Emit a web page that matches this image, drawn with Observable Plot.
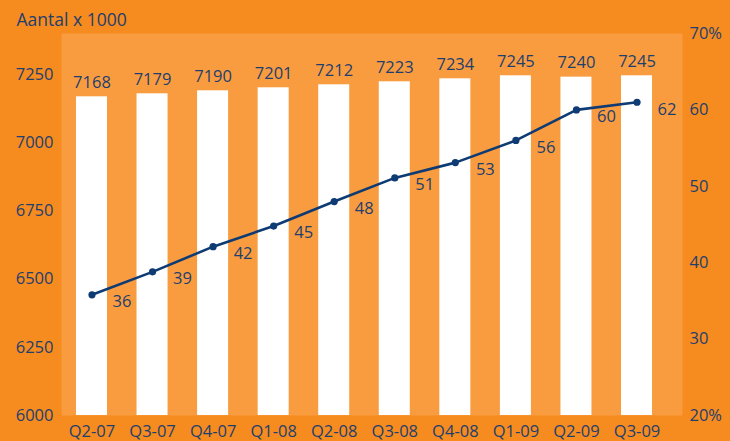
<!DOCTYPE html>
<html>
<head>
<meta charset="utf-8">
<script src="https://cdn.jsdelivr.net/npm/d3@7"></script>
<script src="https://cdn.jsdelivr.net/npm/@observablehq/plot@0.6"></script>
<style>
  html, body { margin: 0; padding: 0; background: #F68B1F; }
  #chart svg { display: block; }
</style>
</head>
<body>
<div id="chart"></div>
<script>
const quarters = ["Q2-07","Q3-07","Q4-07","Q1-08","Q2-08","Q3-08","Q4-08","Q1-09","Q2-09","Q3-09"];
const aantal = [7168, 7179, 7190, 7201, 7212, 7223, 7234, 7245, 7240, 7245];
const aandeel = [35.8, 38.8, 42.1, 44.8, 48.0, 51.1, 53.1, 56.0, 60.0, 61.0];
const aandeelLabels = ["36","39","42","45","48","51","53","56","60","62"];
const leftTicks = [6000, 6250, 6500, 6750, 7000, 7250];
const rightTicks = [20, 30, 40, 50, 60, 70];
const rightTickLabels = ["20%", "30", "40", "50", "60", "70%"];
const title = "Aantal x 1000";

const navy = "#0E3B73";
const textCol = "#1D3F6E";
const font = "'Open Sans', 'Noto Sans', sans-serif";

// map percentage onto the left (count) scale for the secondary axis
const yMin = 6000, yMax = 7400, pMin = 20, pMax = 70;
const toY = p => yMin + (p - pMin) * (yMax - yMin) / (pMax - pMin);

const bars = quarters.map((q, i) => ({q, v: aantal[i]}));
const pts = quarters.map((q, i) => ({q, p: aandeel[i], y: toY(aandeel[i]), label: aandeelLabels[i]}));
const rticks = rightTicks.map((t, i) => ({y: toY(t), label: rightTickLabels[i]}));

const plot = Plot.plot({
  width: 730,
  height: 441,
  marginLeft: 61,
  marginRight: 48,
  marginTop: 33,
  marginBottom: 26,
  style: {background: "#F68B1F", fontFamily: font, fontSize: "16px", color: textCol, overflow: "visible"},
  x: {domain: quarters, range: [61.2, 666.8], paddingInner: 0.488, paddingOuter: 0.244, round: false, label: null},
  y: {domain: [yMin, yMax], range: [415, 33], label: null},
  marks: [
    Plot.frame({fill: "#F99C3F", stroke: null}),
    Plot.barY(bars, {x: "q", y1: yMin, y2: "v", fill: "white", inset: 0}),
    Plot.text(bars, {x: "q", y: "v", text: d => String(d.v), dy: -9, lineAnchor: "bottom", fill: textCol, fontSize: 16.5}),
    Plot.line(pts, {x: "q", y: "y", stroke: navy, strokeWidth: 2.6}),
    Plot.dot(pts, {x: "q", y: "y", r: 3.6, fill: navy, stroke: null}),
    Plot.text(pts, {x: "q", y: "y", text: "label", dx: 30, dy: 7, fill: textCol, fontSize: 16.5}),
    Plot.axisY({ticks: leftTicks, tickFormat: d => String(d), tickSize: 0, tickPadding: 8, anchor: "left", fill: textCol, fontSize: 16.5, label: null}),
    Plot.text(rticks, {x: null, y: "y", text: "label", frameAnchor: "right", dx: 7, textAnchor: "start", fill: textCol, fontSize: 16.5}),
    Plot.axisX({tickSize: 0, tickPadding: 10, fill: textCol, fontSize: 16.5, label: null}),
    Plot.text([title], {frameAnchor: "top-left", dx: -45, dy: -13, textAnchor: "start", lineAnchor: "middle", fill: textCol, fontSize: 17.5})
  ]
});
document.getElementById("chart").appendChild(plot);
</script>
</body>
</html>
